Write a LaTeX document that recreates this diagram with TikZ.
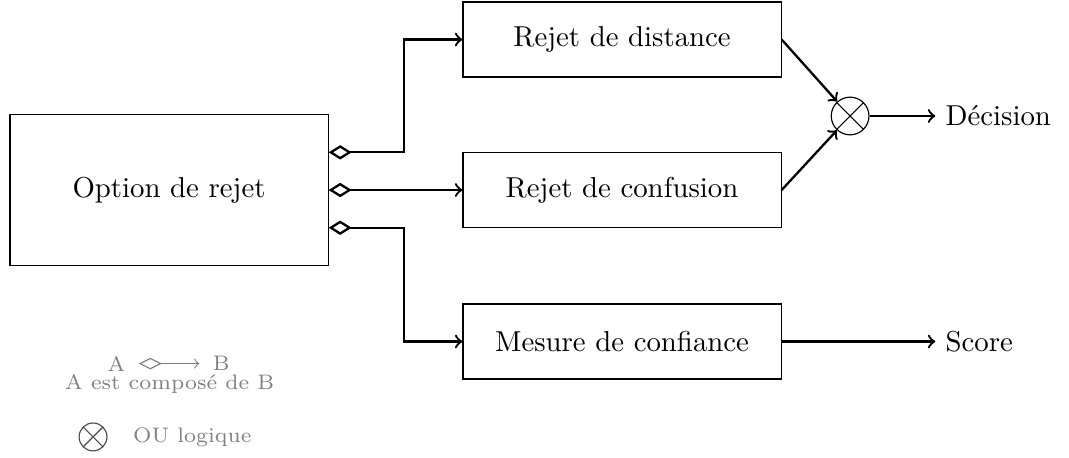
\documentclass[tikz,border=0pt]{standalone}
\usepackage{tikz}
\usetikzlibrary{arrows,arrows.meta}

\begin{document}
\begin{tikzpicture}[>=to,
  bloc/.style={draw, minimum width=3.88cm, minimum height=0.915cm},
  ougate/.style={draw, circle, minimum size=#1, inner sep=0pt,
    path picture={\draw (path picture bounding box.north west) -- (path picture bounding box.south east)
                        (path picture bounding box.north east) -- (path picture bounding box.south west);}},
  compo/.style={thick, {Diamond[open,length=8pt,width=5pt]}->},
  legende/.style={gray, inner sep=0.5pt, font=\fontsize{7.3pt}{8pt}\selectfont}]
\useasboundingbox (0,0) rectangle (13.04,-5.576);

% blocs
\node [bloc, minimum height=1.84cm] (opt) at (2.062,-2.318) {Option de rejet};
\node [bloc] (dist) at (7.588,-0.482) {Rejet de distance};
\node [bloc] (conf) at (7.588,-2.318) {Rejet de confusion};
\node [bloc] (mes)  at (7.588,-4.166) {Mesure de confiance};
\node [ougate=0.46cm] (ou) at (10.37,-1.415) {};
\node [anchor=west] (dec)   at (11.41,-1.415) {D\'ecision};
\node [anchor=west] (score) at (11.41,-4.166) {Score};

% liens
\draw [compo] ([yshift=0.46cm]opt.east) -- ++(0.915,0) |- (dist.west);
\draw [compo] (opt.east) -- (conf.west);
\draw [compo] ([yshift=-0.46cm]opt.east) -- ++(0.915,0) |- (mes.west);
\draw [thick,->] (dist.east) -- (ou);
\draw [thick,->] (conf.east) -- (ou);
\draw [thick,->] (ou) -- (dec);
\draw [thick,->] (mes) -- (score);

% legende
\node [legende, inner xsep=4.5pt] (la) at (1.42,-4.435) {A};
\node [legende, inner xsep=4.5pt] (lb) at (2.70,-4.435) {B};
\draw [gray, {Diamond[open,length=8pt,width=4pt]}->] (la) -- (lb);
\node [legende] (lc) at (2.07,-4.69) {A est compos\'e de B};
\node [ougate=0.34cm, draw=black!70] (lou) at (1.135,-5.33) {};
\node [legende, anchor=west] (lou2) at (1.60,-5.33) {OU logique};
\end{tikzpicture}
\end{document}
